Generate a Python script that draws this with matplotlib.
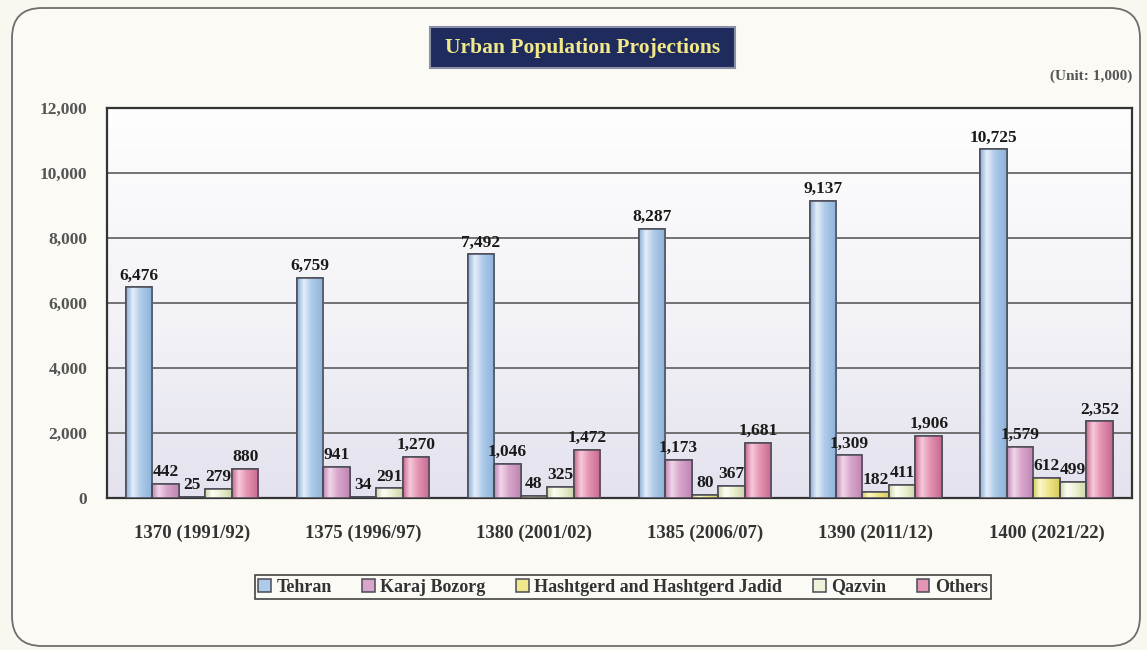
import matplotlib
matplotlib.use("Agg")
import matplotlib.pyplot as plt
import numpy as np
from matplotlib.colors import LinearSegmentedColormap
from matplotlib.patches import FancyBboxPatch, Rectangle

# ── 資料 ────────────────────────────────────────────────
periods = ["1370 (1991/92)", "1375 (1996/97)", "1380 (2001/02)",
           "1385 (2006/07)", "1390 (2011/12)", "1400 (2021/22)"]
tehran    = [6476, 6759, 7492, 8287, 9137, 10725]
karaj     = [442, 941, 1046, 1173, 1309, 1579]
hashtgerd = [25, 34, 48, 80, 182, 612]
qazvin    = [279, 291, 325, 367, 411, 499]
others    = [880, 1270, 1472, 1681, 1906, 2352]

series_names = ["Tehran", "Karaj Bozorg", "Hashtgerd and Hashtgerd Jadid",
                "Qazvin", "Others"]
series_vals = [tehran, karaj, hashtgerd, qazvin, others]
# (暗邊, 亮面, 主色)
series_cols = [
    ("#8cb1d8", "#e4eef9", "#aecbea"),
    ("#bf86b4", "#f2d6ea", "#d8a6cb"),
    ("#d8cc5c", "#fcf8cc", "#f1e88e"),
    ("#cfd6a8", "#fdfef4", "#eef2d6"),
    ("#c86890", "#f7c9da", "#e495b4"),
]

FONT = ["Liberation Serif", "DejaVu Serif"]
plt.rcParams["font.family"] = FONT
plt.rcParams["font.weight"] = "bold"

fig = plt.figure(figsize=(11.47, 6.5), dpi=100)
fig.patch.set_facecolor("#f9f7f0")

# 外框（圓角）
frame = FancyBboxPatch((0.12, 0.04), 11.28, 6.38,
                       boxstyle="round,pad=0,rounding_size=0.3",
                       transform=fig.dpi_scale_trans, fc="#fbfaf4",
                       ec="#6e6e6e", lw=1.3, zorder=-10)
fig.patches.append(frame)

ax = fig.add_axes([0.093, 0.234, 0.894, 0.600], zorder=1)

# 底色漸層
bg = np.linspace(0, 1, 256).reshape(-1, 1)
bg_cmap = LinearSegmentedColormap.from_list("bg", ["#fefefe", "#f4f4f8", "#e3e2ee"])
ax.imshow(bg, extent=[0, 1, 0, 1], transform=ax.transAxes, cmap=bg_cmap,
          aspect="auto", zorder=0, origin="upper")

x = np.arange(len(periods))
w = 0.155
grad = np.linspace(0, 1, 64).reshape(1, -1)

for k, (name, vals, cols) in enumerate(zip(series_names, series_vals, series_cols)):
    dark, light, base = cols
    bars = ax.bar(x + (k - 2) * w, vals, w, color=base, edgecolor="#4a4a55",
                  linewidth=1.1, label=name, zorder=3)
    cmap = LinearSegmentedColormap.from_list(
        f"c{k}", [(0, dark), (0.25, light), (0.55, base), (1, dark)])
    for b in bars:
        x0, h = b.get_x(), b.get_height()
        im = ax.imshow(grad, extent=[x0, x0 + w, 0, h], cmap=cmap,
                       aspect="auto", zorder=3.5)
        im.set_clip_path(b)
        ax.text(x0 + w / 2, h + 120, f"{h:,}", ha="center", va="bottom",
                fontsize=12.5, fontweight="bold", color="#1a1a1a", zorder=5)
    # 邊框再畫一次於漸層之上
    for b in bars:
        ax.add_patch(Rectangle((b.get_x(), 0), w, b.get_height(), fill=False,
                               ec="#4a4a55", lw=1.1, zorder=4))

ax.set_xlim(-0.5, len(periods) - 0.5)
ax.set_ylim(0, 12000)
ax.set_yticks(np.arange(0, 12001, 2000))
ax.set_yticklabels([f"{v:,}" for v in range(0, 12001, 2000)],
                   fontsize=12.5, color="#555555", fontweight="bold")
ax.set_xticks(x)
ax.set_xticklabels(periods, fontsize=13.5, color="#333333", fontweight="bold")
ax.tick_params(axis="x", length=0, pad=19)
ax.tick_params(axis="y", length=0, pad=14)
ax.yaxis.grid(True, color="#5c5c5c", lw=1.2, zorder=1)
ax.set_axisbelow(True)
for s in ax.spines.values():
    s.set_color("#333333")
    s.set_linewidth(1.6)

# 標題框
fig.patches.append(Rectangle((430 / 1147, 1 - 68 / 650), 305 / 1147, 41 / 650,
                             transform=fig.transFigure, fc="#1f2b5c",
                             ec="#8a90a8", lw=1.5, zorder=2))
fig.text(583 / 1147, 1 - 48 / 650, "Urban Population Projections",
         ha="center", va="center", fontsize=15.5, fontweight="bold",
         color="#f2e98a", zorder=3)
fig.text(1132 / 1147, 1 - 76 / 650, "(Unit: 1,000)", ha="right", va="center",
         fontsize=11, fontweight="bold", color="#555555")

leg = fig.legend(loc="center", bbox_to_anchor=(623 / 1147, 1 - 587 / 650),
                 ncol=5, frameon=True, fancybox=False, edgecolor="#444444",
                 facecolor="#fbfaf4", framealpha=1, fontsize=13,
                 handlelength=0.7, handleheight=0.7, handletextpad=0.3,
                 columnspacing=1.7, borderpad=0.2, borderaxespad=0)
leg.get_frame().set_linewidth(1.2)
leg.set_zorder(5)
for t in leg.get_texts():
    t.set_color("#333333")

fig.savefig("out.png", dpi=100, facecolor=fig.get_facecolor())
